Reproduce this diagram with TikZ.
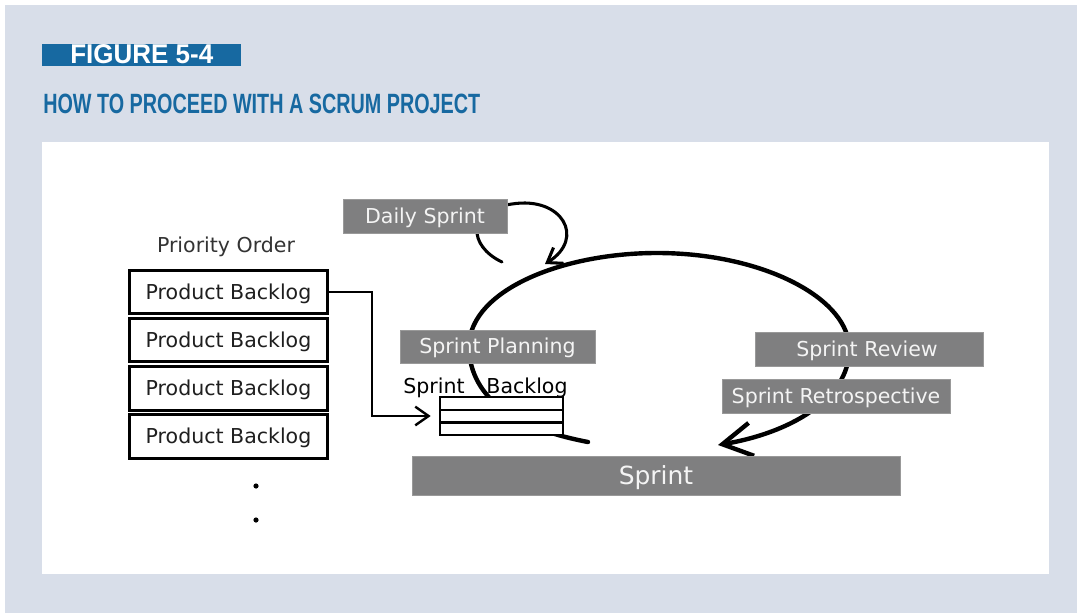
\documentclass[tikz,border=0pt]{standalone}
\usepackage{fontspec}
\setmainfont{DejaVu Sans}
\newfontfamily\headfont{Liberation Sans}
\usetikzlibrary{arrows.meta}
\definecolor{panelbg}{HTML}{D8DEE9}
\definecolor{headblue}{HTML}{1769A1}
\definecolor{boxgrey}{HTML}{7F7F80}
\definecolor{boxtext}{HTML}{F4F4F4}
\tikzset{
  greybox/.style={fill=boxgrey, draw=boxgrey!80!white, line width=0.6pt, inner sep=0pt, text=boxtext, text height=11.2pt, text depth=0pt, font=\fontsize{15.4}{18}\selectfont},
  pbbox/.style={draw=black, line width=2.3pt, fill=white, minimum width=148.5pt, minimum height=32.5pt, inner sep=0pt, text height=11.2pt, text depth=0pt, text=black!88, font=\fontsize{15.4}{18}\selectfont},
  loopline/.style={line width=3.3pt, line cap=round},
  dailyline/.style={line width=2.3pt, line cap=round},
  plainlabel/.style={inner sep=0pt, text height=11.2pt, text depth=0pt, font=\fontsize{15.4}{18}\selectfont}
}
\begin{document}
\begin{tikzpicture}[x=0.75pt,y=-0.75pt]
\useasboundingbox (0,0) rectangle (1077,613);
% backgrounds
\fill[white] (0,0) rectangle (1077,613);
\fill[panelbg] (5,5) rectangle (1077,613);
\fill[white] (42,142) rectangle (1049,574);
% header
\fill[headblue] (42,44) rectangle (241,66);
\node[anchor=base west, inner sep=0pt, text=white] (fig) at (70,64)
  {\resizebox{107.25pt}{14.25pt}{\headfont\bfseries FIGURE 5-4}};
\node[anchor=base west, inner sep=0pt, text=headblue] (title) at (43,114)
  {\resizebox{327.75pt}{14.6pt}{\headfont\bfseries HOW TO PROCEED WITH A SCRUM PROJECT}};

% Priority order list
\node[plainlabel, text=black!80] (prio) at (226,245) {Priority Order};
\node[pbbox] (pb1) at (228.5,292) {Product Backlog};
\node[pbbox] (pb2) at (228.5,340) {Product Backlog};
\node[pbbox] (pb3) at (228.5,388.5) {Product Backlog};
\node[pbbox] (pb4) at (228.5,436.5) {Product Backlog};
\fill (256,486) circle (2.6) coordinate (dot1);
\fill (256,520) circle (2.6) coordinate (dot2);

% main loop (drawn first, boxes on top)
\coordinate (lstart) at (588,442);
\coordinate (lleft) at (469,352);
\coordinate (ltop) at (657,253);
\coordinate (lright) at (849,345);
\coordinate (lend) at (718,445);
\draw[loopline, -{Straight Barb[length=22pt,width=25pt,line width=3.3pt]}]
  (lstart) .. controls (525,430) and (474,405) .. (lleft)
  .. controls (464,292) and (560,253) .. (ltop)
  .. controls (760,253) and (845,296) .. (lright)
  .. controls (853,395) and (795,432) .. (lend);

% daily loop
\coordinate (dstart) at (502,262);
\coordinate (dmid) at (512,204);
\coordinate (dend) at (545,264);
\draw[dailyline, -{Straight Barb[length=10pt,width=14pt,line width=2.3pt]}]
  (dstart) .. controls (468,246) and (466,210) .. (dmid)
  .. controls (562,196) and (586,238) .. (dend);

% grey boxes
\node[greybox, minimum width=123pt, minimum height=25.5pt] (daily) at (425,216) {Daily Sprint};
\node[greybox, minimum width=146.25pt, minimum height=24.75pt] (planning) at (497.5,346.5) {Sprint Planning};
\node[greybox, minimum width=171pt, minimum height=25.5pt, text width=171pt, align=left] (review) at (869,349) {\hspace*{31pt}Sprint Review};
\node[greybox, minimum width=171pt, minimum height=25.5pt] (retro) at (836,396) {Sprint Retrospective};
\node[greybox, minimum width=366pt, minimum height=29.25pt, text height=13.6pt, font=\fontsize{18.7}{22}\selectfont] (sprint) at (656,475.5) {Sprint};

% sprint backlog stack
\node[plainlabel] (sbl1) at (434,386) {Sprint};
\node[plainlabel] (sbl2) at (527,386) {Backlog};
\draw[line width=2pt, fill=white] (440,397) rectangle (563,435);
\draw[line width=2.2pt] (440,410) -- (563,410);
\draw[line width=2.2pt] (440,422.5) -- (563,422.5);
\coordinate (stack) at (440,416);
\coordinate (corner) at (372,292);
\coordinate (corner2) at (372,416);

% product backlog -> sprint backlog
\draw[line width=1.8pt, -{Straight Barb[length=10pt,width=14pt,line width=1.8pt]}]
  (pb1.east) -- (corner) -- (corner2) -- ([xshift=-7pt]stack);
\end{tikzpicture}
\end{document}
